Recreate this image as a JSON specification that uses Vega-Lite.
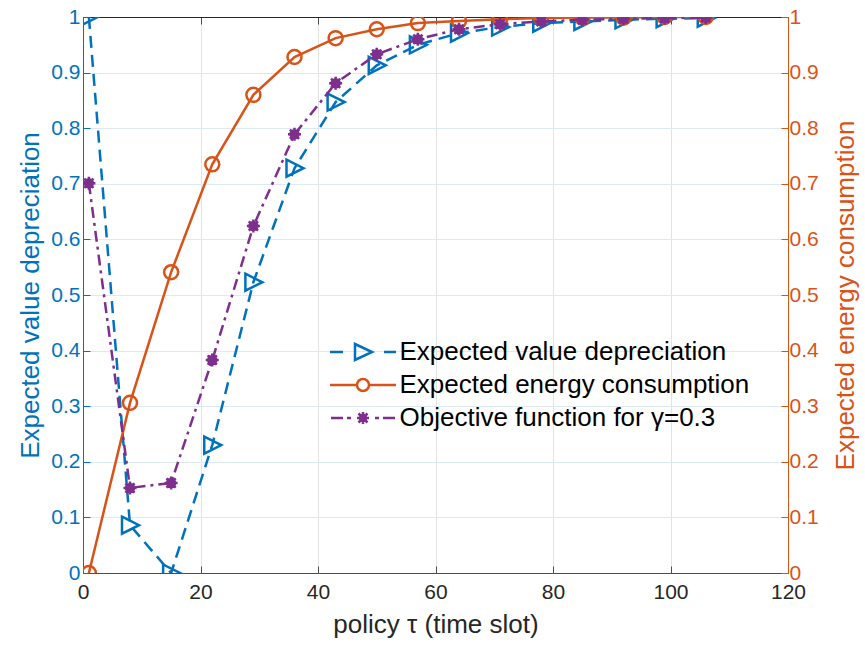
{
  "$schema": "https://vega.github.io/schema/vega-lite/v6.json",
  "width": 705,
  "height": 556,
  "autosize": {"type": "none"},
  "padding": {"left": 83, "top": 17, "right": 77, "bottom": 73},
  "background": "white",
  "config": {
    "font": "Liberation Sans",
    "view": {"stroke": "#262626", "strokeWidth": 1},
    "axis": {
      "labelFont": "Liberation Sans",
      "titleFont": "Liberation Sans",
      "titleFontWeight": "normal",
      "labelFontSize": 21,
      "titleFontSize": 26,
      "tickSize": -7,
      "tickWidth": 1,
      "domainWidth": 1,
      "labelFlush": false,
      "labelOverlap": false
    },
    "legend": {
      "orient": "none",
      "legendX": 267,
      "legendY": 322,
      "labelFont": "Liberation Sans",
      "labelFontSize": 26,
      "labelColor": "#000000",
      "labelLimit": 0,
      "symbolSize": 4,
      "symbolStrokeWidth": 2.5,
      "labelOffset": 23.5,
      "rowPadding": 7,
      "padding": 0
    }
  },
  "data": {
    "values": [
      {"tau": 1, "series": "Expected value depreciation", "val": 1.0},
      {"tau": 8, "series": "Expected value depreciation", "val": 0.086},
      {"tau": 15, "series": "Expected value depreciation", "val": 0.0},
      {"tau": 22, "series": "Expected value depreciation", "val": 0.230},
      {"tau": 29, "series": "Expected value depreciation", "val": 0.523},
      {"tau": 36, "series": "Expected value depreciation", "val": 0.728},
      {"tau": 43, "series": "Expected value depreciation", "val": 0.847},
      {"tau": 50, "series": "Expected value depreciation", "val": 0.913},
      {"tau": 57, "series": "Expected value depreciation", "val": 0.950},
      {"tau": 64, "series": "Expected value depreciation", "val": 0.971},
      {"tau": 71, "series": "Expected value depreciation", "val": 0.982},
      {"tau": 78, "series": "Expected value depreciation", "val": 0.989},
      {"tau": 85, "series": "Expected value depreciation", "val": 0.992},
      {"tau": 92, "series": "Expected value depreciation", "val": 0.995},
      {"tau": 99, "series": "Expected value depreciation", "val": 0.997},
      {"tau": 106, "series": "Expected value depreciation", "val": 0.998},
      {"tau": 1, "series": "Expected energy consumption", "val": 0.0},
      {"tau": 8, "series": "Expected energy consumption", "val": 0.306},
      {"tau": 15, "series": "Expected energy consumption", "val": 0.541},
      {"tau": 22, "series": "Expected energy consumption", "val": 0.735},
      {"tau": 29, "series": "Expected energy consumption", "val": 0.860},
      {"tau": 36, "series": "Expected energy consumption", "val": 0.928},
      {"tau": 43, "series": "Expected energy consumption", "val": 0.962},
      {"tau": 50, "series": "Expected energy consumption", "val": 0.978},
      {"tau": 57, "series": "Expected energy consumption", "val": 0.989},
      {"tau": 64, "series": "Expected energy consumption", "val": 0.993},
      {"tau": 71, "series": "Expected energy consumption", "val": 0.996},
      {"tau": 78, "series": "Expected energy consumption", "val": 0.998},
      {"tau": 85, "series": "Expected energy consumption", "val": 0.999},
      {"tau": 92, "series": "Expected energy consumption", "val": 0.999},
      {"tau": 99, "series": "Expected energy consumption", "val": 1.0},
      {"tau": 106, "series": "Expected energy consumption", "val": 1.0},
      {"tau": 1, "series": "Objective function for γ=0.3", "val": 0.701},
      {"tau": 8, "series": "Objective function for γ=0.3", "val": 0.153},
      {"tau": 15, "series": "Objective function for γ=0.3", "val": 0.162},
      {"tau": 22, "series": "Objective function for γ=0.3", "val": 0.383},
      {"tau": 29, "series": "Objective function for γ=0.3", "val": 0.624},
      {"tau": 36, "series": "Objective function for γ=0.3", "val": 0.789},
      {"tau": 43, "series": "Objective function for γ=0.3", "val": 0.881},
      {"tau": 50, "series": "Objective function for γ=0.3", "val": 0.933},
      {"tau": 57, "series": "Objective function for γ=0.3", "val": 0.960},
      {"tau": 64, "series": "Objective function for γ=0.3", "val": 0.978},
      {"tau": 71, "series": "Objective function for γ=0.3", "val": 0.987},
      {"tau": 78, "series": "Objective function for γ=0.3", "val": 0.992},
      {"tau": 85, "series": "Objective function for γ=0.3", "val": 0.995},
      {"tau": 92, "series": "Objective function for γ=0.3", "val": 0.997},
      {"tau": 99, "series": "Objective function for γ=0.3", "val": 0.998},
      {"tau": 106, "series": "Objective function for γ=0.3", "val": 0.999}
    ]
  },
  "resolve": {"scale": {"y": "independent"}, "axis": {"x": "independent"}},
  "layer": [
    {
      "transform": [{"filter": "datum.series == 'Expected value depreciation'"}],
      "mark": {"type": "line", "color": "#0072BD", "strokeWidth": 2.5, "strokeDash": [12, 7], "clip": true},
      "encoding": {
        "x": {
          "field": "tau", "type": "quantitative",
          "scale": {"domain": [0, 120], "nice": false, "zero": false},
          "axis": {
            "orient": "bottom", "values": [0, 20, 40, 60, 80, 100, 120],
            "title": "policy τ (time slot)", "titleColor": "#262626", "labelColor": "#262626",
            "domainColor": "#4d4d4d", "tickColor": "#4d4d4d",
            "grid": true, "gridColor": "#e3e3e3", "labelPadding": 15, "titlePadding": 9
          }
        },
        "y": {
          "field": "val", "type": "quantitative",
          "scale": {"domain": [0, 1], "nice": false, "zero": false},
          "axis": {
            "orient": "left", "values": [0, 0.1, 0.2, 0.3, 0.4, 0.5, 0.6, 0.7, 0.8, 0.9, 1], "format": "~g",
            "title": "Expected value depreciation", "titleColor": "#0072BD", "labelColor": "#0072BD",
            "domainColor": "#0072BD", "tickColor": "#0072BD",
            "grid": true, "gridColor": "#dde9f5", "labelPadding": 10, "titlePadding": 7
          }
        }
      }
    },
    {
      "transform": [{"filter": "datum.series == 'Expected value depreciation'"}],
      "mark": {"type": "point", "shape": "M-8,-8.5L9,0L-8,8.5Z", "size": 4, "filled": false, "stroke": "#0072BD", "strokeWidth": 2.5, "opacity": 1, "clip": true},
      "encoding": {
        "x": {"field": "tau", "type": "quantitative", "scale": {"domain": [0, 120], "nice": false, "zero": false}, "axis": null},
        "y": {"field": "val", "type": "quantitative", "scale": {"domain": [0, 1], "nice": false, "zero": false}, "axis": null}
      }
    },
    {
      "transform": [{"filter": "datum.series == 'Expected energy consumption'"}],
      "mark": {"type": "line", "color": "#D95319", "strokeWidth": 2.5, "clip": true},
      "encoding": {
        "x": {
          "field": "tau", "type": "quantitative",
          "scale": {"domain": [0, 120], "nice": false, "zero": false},
          "axis": {
            "orient": "top", "values": [0, 20, 40, 60, 80, 100, 120], "labels": false, "title": null,
            "grid": false, "domainColor": "#262626", "tickColor": "#4d4d4d"
          }
        },
        "y": {
          "field": "val", "type": "quantitative",
          "scale": {"domain": [0, 1], "nice": false, "zero": false},
          "axis": {
            "orient": "right", "values": [0, 0.1, 0.2, 0.3, 0.4, 0.5, 0.6, 0.7, 0.8, 0.9, 1], "format": "~g",
            "title": "Expected energy consumption", "titleColor": "#D95319", "labelColor": "#D95319",
            "domainColor": "#D95319", "tickColor": "#D95319",
            "grid": false, "labelPadding": 8, "titlePadding": 14, "titleAngle": 270, "titleBaseline": "top"
          }
        }
      }
    },
    {
      "transform": [{"filter": "datum.series == 'Expected energy consumption'"}],
      "mark": {"type": "point", "shape": "M-7,0A7,7 0 1,0 7,0A7,7 0 1,0 -7,0Z", "size": 4, "filled": false, "stroke": "#D95319", "strokeWidth": 2.5, "opacity": 1, "clip": true},
      "encoding": {
        "x": {"field": "tau", "type": "quantitative", "scale": {"domain": [0, 120], "nice": false, "zero": false}, "axis": null},
        "y": {"field": "val", "type": "quantitative", "scale": {"domain": [0, 1], "nice": false, "zero": false}, "axis": null}
      }
    },
    {
      "transform": [{"filter": "datum.series == 'Objective function for γ=0.3'"}],
      "mark": {"type": "line", "color": "#7E2F8E", "strokeWidth": 2.5, "strokeDash": [11, 5, 3, 5], "clip": true},
      "encoding": {
        "x": {"field": "tau", "type": "quantitative", "scale": {"domain": [0, 120], "nice": false, "zero": false}, "axis": null},
        "y": {"field": "val", "type": "quantitative", "scale": {"domain": [0, 1], "nice": false, "zero": false}, "axis": null}
      }
    },
    {
      "transform": [{"filter": "datum.series == 'Objective function for γ=0.3'"}],
      "mark": {"type": "point", "shape": "M-6.5,0L6.5,0M0,-6.5L0,6.5M-4.6,-4.6L4.6,4.6M-4.6,4.6L4.6,-4.6M-4,0A4,4 0 1,0 4,0A4,4 0 1,0 -4,0Z", "size": 4, "filled": true, "fill": "#7E2F8E", "stroke": "#7E2F8E", "strokeWidth": 2.5, "opacity": 1, "clip": true},
      "encoding": {
        "x": {"field": "tau", "type": "quantitative", "scale": {"domain": [0, 120], "nice": false, "zero": false}, "axis": null},
        "y": {"field": "val", "type": "quantitative", "scale": {"domain": [0, 1], "nice": false, "zero": false}, "axis": null}
      }
    },
    {
      "transform": [{"filter": "false"}],
      "mark": {"type": "point", "filled": false, "size": 4, "strokeWidth": 2.5, "opacity": 1},
      "encoding": {
        "shape": {
          "field": "series", "type": "nominal",
          "scale": {
            "domain": ["Expected value depreciation", "Expected energy consumption", "Objective function for γ=0.3"],
            "range": [
              "M-33,0L-20,0M-8,-8L9,0L-8,8ZM21,0L33,0",
              "M-33,0L-6,0M6,0L33,0M-6,0A6,6 0 1,0 6,0A6,6 0 1,0 -6,0Z",
              "M-32,0L-20,0M-16,0L-12,0M12,0L16,0M20,0L32,0M-6,0L6,0M0,-6L0,6M-4.5,-4.5L4.5,4.5M-4.5,4.5L4.5,-4.5M-3,0A3,3 0 1,0 3,0A3,3 0 1,0 -3,0Z"
            ]
          },
          "legend": {"title": null}
        },
        "color": {
          "field": "series", "type": "nominal",
          "scale": {
            "domain": ["Expected value depreciation", "Expected energy consumption", "Objective function for γ=0.3"],
            "range": ["#0072BD", "#D95319", "#7E2F8E"]
          },
          "legend": {"title": null}
        }
      }
    }
  ]
}
